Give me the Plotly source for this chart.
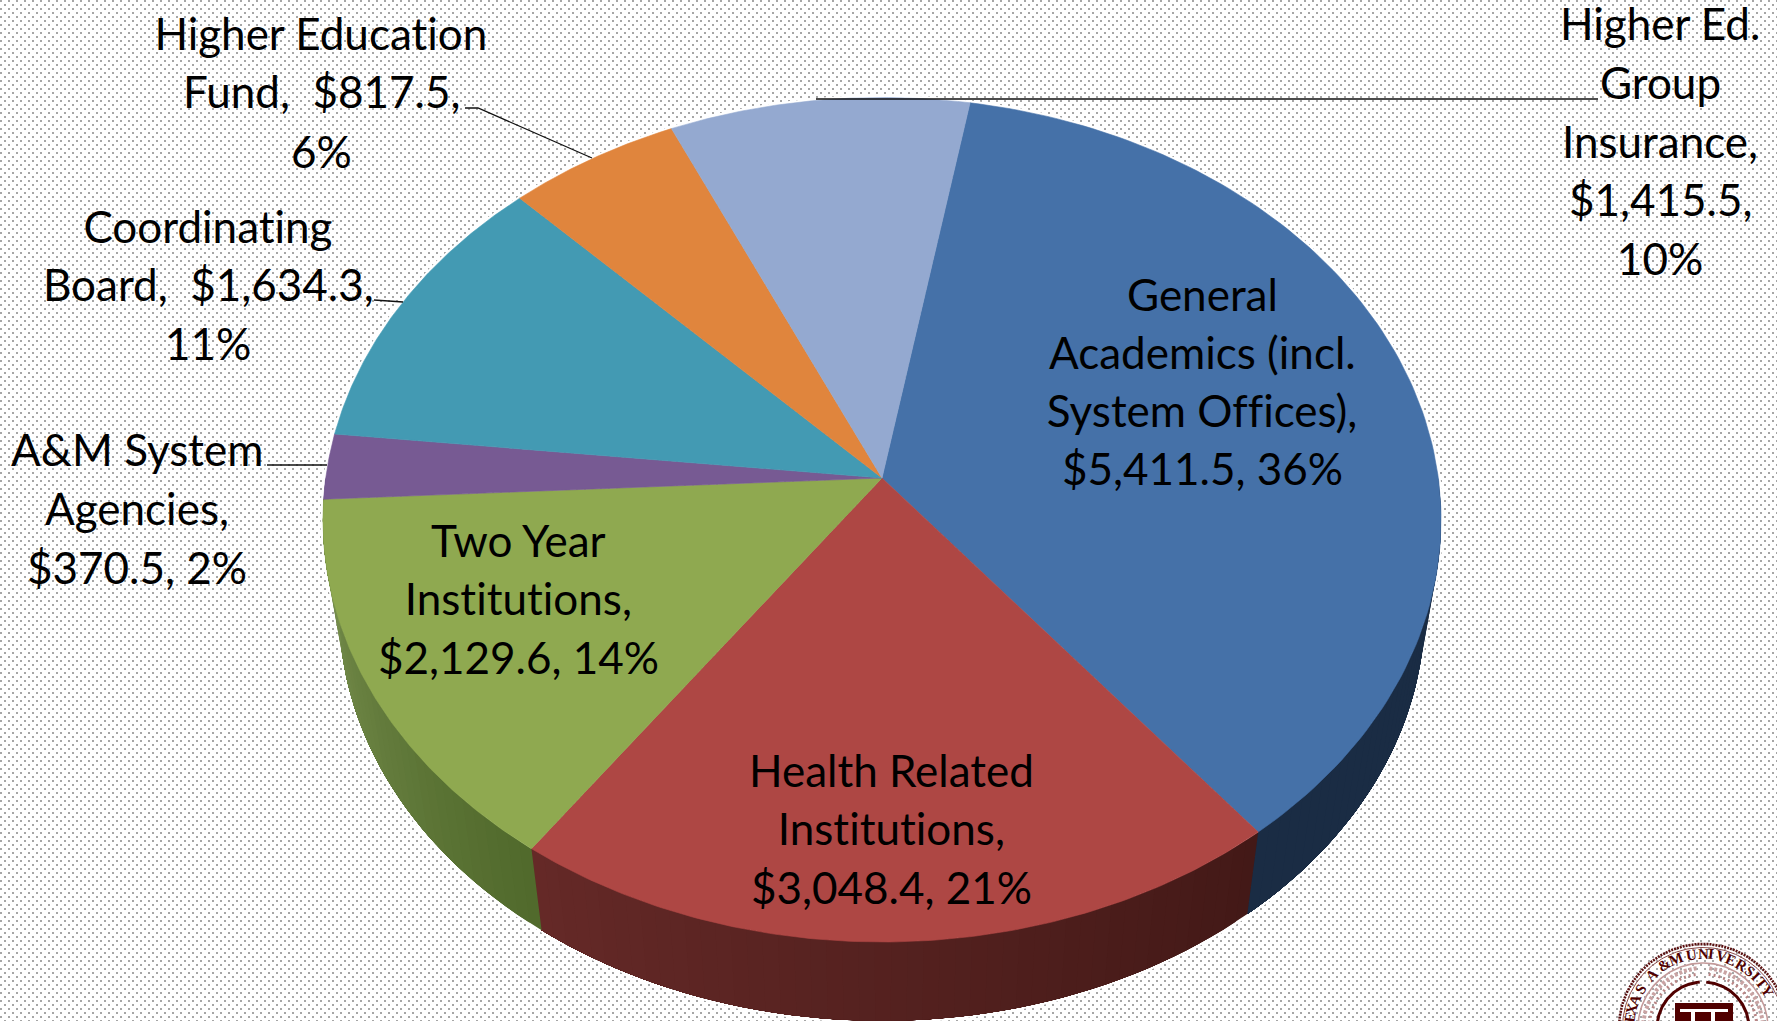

import base64, struct, zlib
import numpy as np
import plotly.graph_objects as go

# ---- data ----
categories = ["General Academics (incl. System Offices)", "Health Related Institutions",
              "Two Year Institutions", "A&M System Agencies", "Coordinating Board",
              "Higher Education Fund", "Higher Ed. Group Insurance"]
values = [5411.5, 3048.4, 2129.6, 370.5, 1634.3, 817.5, 1415.5]
top_colors = ["#4571A8", "#AE4744", "#8FA950", "#775A93", "#439AB3", "#E0853D", "#94A9D0"]
side_left = ["#1A2C44", "#652927", "#7A9150", "#4A3860", "#2A6070", "#8C5020", "#5D6A82"]
side_right = ["#1A2C44", "#431917", "#50692B", "#4A3860", "#2A6070", "#8C5020", "#5D6A82"]
label_lines = [
    ["General", "Academics (incl.", "System Offices),", "$5,411.5, 36%"],
    ["Health Related", "Institutions,", "$3,048.4, 21%"],
    ["Two Year", "Institutions,", "$2,129.6, 14%"],
    ["A&M System", "Agencies,", "$370.5, 2%"],
    ["Coordinating", "Board,  $1,634.3,", "11%"],
    ["Higher Education", "Fund,  $817.5,", "6%"],
    ["Higher Ed.", "Group", "Insurance,", "$1,415.5,", "10%"],
]
label_x = [1202, 891, 518, 137, 208, 321, 1660]
label_y = [[294, 352, 410, 468], [770, 828, 887], [540, 598, 657], [449, 508, 567],
           [226, 284, 343], [33, 91, 151], [23, 82, 141, 199, 258]]
leaders = [
    [(816, 99), (1598, 99)],
    [(465, 108), (478, 108), (592, 158)],
    [(374, 300), (403, 302)],
    [(267, 465), (327, 465)],
]
seal_letters = list("TEXASA&MUNIVERSITY")
seal_angles = [-89, -82, -75, -67.4, -57.8, -44, -31.8, -21.2, -8.6, 0.3, 6.5, 14.3, 22.4, 30.9, 39.2, 45.3, 52.3, 60]

# ---- projection of the tilted disc ----
CX, CY, A, B, K = 882, 478, 556.3, 418.1, 0.0989
START_DEG = 10.0
DROP_SCALE, DROP_Y = 0.971, 3660
W, H = 1777, 1021
FONT = "Lato"
FSIZE = 44
MAROON = "#500000"


def rim(theta):
    u, v = np.sin(theta), np.cos(theta)
    d = 1 + K * v
    return CX + A * u / d, CY - B * v / d


def lower(theta):
    x, y = rim(theta)
    return CX + DROP_SCALE * (x - CX), DROP_Y + DROP_SCALE * (y - DROP_Y)


def hex_mix(c1, c2, t):
    a = [int(c1[i:i + 2], 16) for i in (1, 3, 5)]
    b = [int(c2[i:i + 2], 16) for i in (1, 3, 5)]
    return "#%02x%02x%02x" % tuple(round(p + (q - p) * t) for p, q in zip(a, b))


def dot_background():
    img = np.full((H, W), 255, dtype=np.uint8)
    for sx, sy in ((0, 0), (4, 4)):
        for dx in (0, 1):
            for dy in (0, 1):
                img[sy + dy::8, sx + dx::8] = 166
    raw = b"".join(b"\x00" + img[r].tobytes() for r in range(H))

    def chunk(tag, body):
        return struct.pack(">I", len(body)) + tag + body + struct.pack(">I", zlib.crc32(tag + body))

    png = (b"\x89PNG\r\n\x1a\n" + chunk(b"IHDR", struct.pack(">IIBBBBB", W, H, 8, 0, 0, 0, 0))
           + chunk(b"IDAT", zlib.compress(raw, 9)) + chunk(b"IEND", b""))
    return "data:image/png;base64," + base64.b64encode(png).decode()


fig = go.Figure()


def poly(xs, ys, color, name=None, width=0.6):
    fig.add_trace(go.Scatter(x=list(xs), y=list(ys), mode="lines", fill="toself", fillcolor=color,
                             line=dict(color=color, width=width), hoverinfo="skip" if name is None else "name",
                             name=name or "", showlegend=False))


total = sum(values)
edges = np.radians(START_DEG) + 2 * np.pi * np.concatenate([[0], np.cumsum(values)]) / total

# white halo round the whole solid
t_all = np.linspace(0, 2 * np.pi, 361)
xt, yt = rim(t_all)
xb, yb = lower(t_all)
for xs, ys in ((xt, yt), (xb, yb)):
    fig.add_trace(go.Scatter(x=xs, y=ys, mode="lines", line=dict(color="white", width=5),
                             hoverinfo="skip", showlegend=False))

# side wall: overlapping strips drawn in rim order, so that it shades without seams
for i in range(len(values)):
    lo, hi = edges[i], edges[i + 1]
    a0, a1 = max(lo, np.pi / 2), min(hi, 3 * np.pi / 2)
    if a1 <= a0:
        continue
    n = max(2, int((a1 - a0) / np.radians(1.5)))
    steps = np.linspace(a0, a1, n + 1)
    for j in range(n):
        seg = np.linspace(steps[j], a1, max(3, n - j + 2))
        x1, y1 = rim(seg)
        x2, y2 = lower(seg)
        c = hex_mix(side_right[i], side_left[i], (j + 0.5) / n)
        poly(np.r_[x1, x2[::-1], x1[0]], np.r_[y1, y2[::-1], y1[0]], c, width=0)

# top face
for i, cat in enumerate(categories):
    seg = np.linspace(edges[i], edges[i + 1], 120)
    x, y = rim(seg)
    poly(np.r_[CX, x, CX], np.r_[CY, y, CY], top_colors[i], name=f"{cat}: ${values[i]:,.1f}")

# leader lines
for pts in leaders:
    fig.add_trace(go.Scatter(x=[p[0] for p in pts], y=[p[1] for p in pts], mode="lines",
                             line=dict(color="#111111", width=1.3), hoverinfo="skip", showlegend=False))

# seal in the corner
SX, SY = 1703, 1028


def arc(r, d0, d1, color, width, dash="solid"):
    t = np.radians(np.linspace(d0, d1, 140))
    fig.add_trace(go.Scatter(x=SX + r * np.sin(t), y=SY - r * np.cos(t), mode="lines",
                             line=dict(color=color, width=width, dash=dash),
                             hoverinfo="skip", showlegend=False))


arc(84, -100, 100, "#5a1010", 2.6, "2px,1px")
arc(80.5, -100, 100, "#8c4a4a", 1)
arc(65, -100, 100, "#c49a9a", 1.6)
arc(60, -95, -6, "#c9a3a3", 4, "3px,2px")
arc(60, 6, 95, "#c9a3a3", 4, "3px,2px")
arc(54, -95, -6, "#b98585", 3, "2px,3px")
arc(54, 6, 95, "#b98585", 3, "2px,3px")
arc(46, -95, -4, MAROON, 3)
arc(46, 4, 95, MAROON, 3)
fig.add_shape(type="rect", x0=1675, x1=1733, y0=1003, y1=1021, fillcolor=MAROON, line_width=0, layer="above")
fig.add_shape(type="rect", x0=1680, x1=1728, y0=1009, y1=1012, fillcolor="white", line_width=0, layer="above")
fig.add_shape(type="rect", x0=1691, x1=1695, y0=1012, y1=1021, fillcolor="white", line_width=0, layer="above")
fig.add_shape(type="rect", x0=1711, x1=1715, y0=1012, y1=1021, fillcolor="white", line_width=0, layer="above")

annotations = []
for ch, deg in zip(seal_letters, seal_angles):
    t = np.radians(deg)
    annotations.append(dict(x=SX + 74 * np.sin(t), y=SY - 74 * np.cos(t), text=f"<b>{ch}</b>", showarrow=False,
                            textangle=float(deg), xanchor="center", yanchor="middle",
                            font=dict(family="Liberation Serif", size=15, color=MAROON)))

for lines, x, ys in zip(label_lines, label_x, label_y):
    for line, y in zip(lines, ys):
        annotations.append(dict(x=x, y=y, text=line.replace("  ", "&nbsp; "), showarrow=False,
                                xanchor="center", yanchor="middle",
                                font=dict(family=FONT, size=FSIZE, color="#000000")))

fig.update_layout(
    width=W, height=H, margin=dict(l=0, r=0, t=0, b=0), autosize=False,
    paper_bgcolor="white", plot_bgcolor="rgba(0,0,0,0)", showlegend=False,
    xaxis=dict(range=[0, W], visible=False, fixedrange=True),
    yaxis=dict(range=[H, 0], visible=False, fixedrange=True),
    annotations=annotations,
    images=[dict(source=dot_background(), xref="paper", yref="paper", x=0, y=1, sizex=1, sizey=1,
                 xanchor="left", yanchor="top", sizing="stretch", layer="below")],
)
fig.write_html("out.html", config={"displayModeBar": False},
               post_script="document.body.style.margin='0';document.body.style.overflow='hidden';"
                           "var s=document.createElement('style');"
                           "s.textContent='text{font-variant-ligatures:none !important}';"
                           "document.head.appendChild(s);")
